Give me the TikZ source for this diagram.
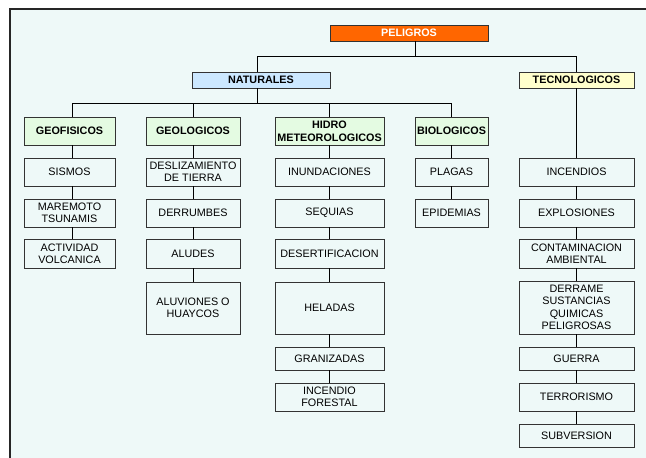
\documentclass[tikz,border=0pt]{standalone}
\usepackage{fontspec}
\setmainfont{Liberation Sans}
\definecolor{bgc}{HTML}{EEF9F8}
\definecolor{orangec}{HTML}{FF6600}
\definecolor{bluec}{HTML}{CCE8FF}
\definecolor{yellowc}{HTML}{FFFFCC}
\definecolor{greenc}{HTML}{E4FBE2}
\definecolor{linec}{HTML}{333333}
\begin{document}
\begin{tikzpicture}[x=1pt,y=-1pt,
  box/.style={draw=linec, line width=0.9pt, fill=bgc, align=center, inner sep=0pt,
    font=\fontsize{10.8}{12.4}\selectfont},
  head/.style={box, fill=greenc, font=\fontsize{10.8}{12.6}\selectfont\bfseries},
  conn/.style={draw=black, line width=0.8pt}]
\useasboundingbox (0,0) rectangle (646,458);
\fill[white] (0,0) rectangle (646,458);
\fill[bgc] (10,9) rectangle (646,458);
\draw[line width=2pt, color=black!85] (10,458) -- (10,9) -- (646,9);
% level 0 and 1
\node[box, fill=orangec, text=white, font=\fontsize{10.8}{12}\selectfont\bfseries, minimum width=158pt, minimum height=16pt] (peligros) at (409,33) {PELIGROS};
\node[box, fill=bluec, font=\fontsize{10.8}{12}\selectfont\bfseries, minimum width=138pt, minimum height=16pt] (naturales) at (261,80) {NATURALES};
\node[box, fill=yellowc, font=\fontsize{10.8}{12}\selectfont\bfseries, minimum width=115pt, minimum height=16pt] (tecnologicos) at (576.5,80) {TECNOLOGICOS};
% level 2
\node[head, minimum width=91pt, minimum height=28pt] (geofisicos) at (69.5,131) {GEOFISICOS};
\node[head, minimum width=94pt, minimum height=28pt] (geologicos) at (193,131) {GEOLOGICOS};
\node[head, minimum width=109pt, minimum height=28pt] (hidro) at (329.5,131) {HIDRO\\METEOROLOGICOS};
\node[head, minimum width=73pt, minimum height=28pt] (biologicos) at (451.5,131) {BIOLOGICOS};
% column 1
\node[box, minimum width=91pt, minimum height=28pt] (sismos) at (69.5,172) {SISMOS};
\node[box, minimum width=91pt, minimum height=28pt] (maremoto) at (69.5,213) {MAREMOTO\\TSUNAMIS};
\node[box, minimum width=91pt, minimum height=29pt] (actividad) at (69.5,253.5) {ACTIVIDAD\\VOLCANICA};
% column 2
\node[box, minimum width=94pt, minimum height=28pt] (deslizamiento) at (193,172) {DESLIZAMIENTO\\DE TIERRA};
\node[box, minimum width=94pt, minimum height=28pt] (derrumbes) at (193,213) {DERRUMBES};
\node[box, minimum width=94pt, minimum height=29pt] (aludes) at (193,253.5) {ALUDES};
\node[box, minimum width=94pt, minimum height=52pt] (aluviones) at (193,308) {ALUVIONES O\\HUAYCOS};
% column 3
\node[box, minimum width=109pt, minimum height=28pt] (inundaciones) at (329.5,172) {INUNDACIONES};
\node[box, minimum width=109pt, minimum height=28pt] (sequias) at (329.5,213) {SEQUIAS};
\node[box, minimum width=109pt, minimum height=29pt] (desertificacion) at (329.5,253.5) {DESERTIFICACION};
\node[box, minimum width=109pt, minimum height=52pt] (heladas) at (329.5,308) {HELADAS};
\node[box, minimum width=109pt, minimum height=23pt] (granizadas) at (329.5,358.5) {GRANIZADAS};
\node[box, minimum width=109pt, minimum height=28pt] (forestal) at (329.5,397) {INCENDIO\\FORESTAL};
% column 4
\node[box, minimum width=73pt, minimum height=28pt] (plagas) at (451.5,172) {PLAGAS};
\node[box, minimum width=73pt, minimum height=28pt] (epidemias) at (451.5,213) {EPIDEMIAS};
% column 5
\node[box, minimum width=115pt, minimum height=28pt] (incendios) at (576.5,172) {INCENDIOS};
\node[box, minimum width=115pt, minimum height=28pt] (explosiones) at (576.5,213) {EXPLOSIONES};
\node[box, minimum width=115pt, minimum height=29pt] (contaminacion) at (576.5,253.5) {CONTAMINACION\\AMBIENTAL};
\node[box, minimum width=115pt, minimum height=53pt] (derrame) at (576.5,307.5) {DERRAME\\SUSTANCIAS\\QUIMICAS\\PELIGROSAS};
\node[box, minimum width=115pt, minimum height=23pt] (guerra) at (576.5,358.5) {GUERRA};
\node[box, minimum width=115pt, minimum height=28pt] (terrorismo) at (576.5,397) {TERRORISMO};
\node[box, minimum width=115pt, minimum height=23pt] (subversion) at (576.5,435.5) {SUBVERSION};
% connectors level 0-1
\draw[conn] ([xshift=6pt]peligros.south) -- ++(0,15) coordinate (h1);
\draw[conn] ([xshift=-4pt]naturales.north) |- (h1) -| (tecnologicos.north);
% level 1-2
\draw[conn] ([xshift=-4pt]naturales.south) -- ++(0,15) coordinate (h2);
\draw[conn] ([xshift=3pt]geofisicos.north) |- (h2) -| (biologicos.north);
\draw[conn] (geologicos.north) -- (geologicos.north |- h2);
\draw[conn] (hidro.north) -- (hidro.north |- h2);
% columns
\foreach \a/\b in {geofisicos/sismos, sismos/maremoto, maremoto/actividad}
  \draw[conn] ([xshift=3pt]\a.south) -- ([xshift=3pt]\b.north);
\foreach \a/\b in {geologicos/deslizamiento, deslizamiento/derrumbes, derrumbes/aludes, aludes/aluviones,
  hidro/inundaciones, inundaciones/sequias, sequias/desertificacion, desertificacion/heladas, heladas/granizadas, granizadas/forestal,
  biologicos/plagas, plagas/epidemias,
  tecnologicos/incendios, incendios/explosiones, explosiones/contaminacion, contaminacion/derrame, derrame/guerra, guerra/terrorismo, terrorismo/subversion}
  \draw[conn] (\a.south) -- (\b.north);
\end{tikzpicture}
\end{document}
